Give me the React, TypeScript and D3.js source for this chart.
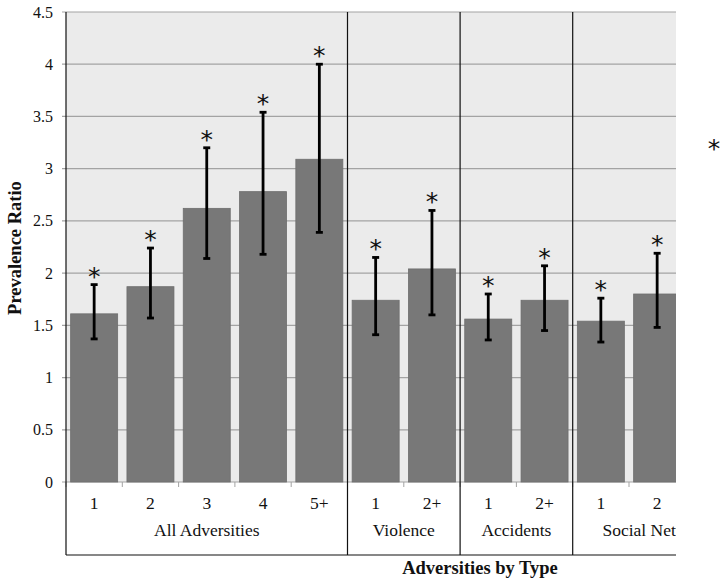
import React from "react";
import * as d3 from "d3";

const categories = ["1", "2", "3", "4", "5+", "1", "2+", "1", "2+", "1", "2", "3+"];
const groups = ["All Adversities", "All Adversities", "All Adversities", "All Adversities", "All Adversities", "Violence", "Violence", "Accidents", "Accidents", "Social Network", "Social Network", "Social Network"];
// last category lies outside the visible (cropped) area: no value readable
const values: (number | null)[] = [1.61, 1.87, 2.62, 2.78, 3.09, 1.74, 2.04, 1.56, 1.74, 1.54, 1.80, null];
const lower: (number | null)[] = [1.37, 1.57, 2.14, 2.18, 2.39, 1.41, 1.60, 1.36, 1.45, 1.34, 1.48, null];
const upper: (number | null)[] = [1.89, 2.24, 3.20, 3.54, 4.00, 2.15, 2.60, 1.80, 2.07, 1.76, 2.19, null];
const yTicks = [0, 0.5, 1, 1.5, 2, 2.5, 3, 3.5, 4, 4.5];
const groupNames = ["All Adversities", "Violence", "Accidents", "Social Network"];

const W = 726, H = 584;
const left = 66, top = 12, bottom = 482, visRight = 676, boxBottom = 555;
const catW = 56.3;
const fullRight = left + catW * categories.length;

export default function App() {
  const idx = categories.map((_, i) => String(i));
  const x = d3.scaleBand<string>().domain(idx).range([left, fullRight]).paddingInner(0.165).paddingOuter(0.0825);
  const xb = d3.scaleBand<string>().domain(idx).range([left, fullRight]);
  const y = d3.scaleLinear().domain([0, 4.5]).range([bottom, top]);
  const serif = "'Liberation Serif', 'Times New Roman', serif";
  const starFont = "'DejaVu Sans', sans-serif";

  const groupSpans = groupNames.map((g) => {
    const is = groups.map((gg, i) => (gg === g ? i : -1)).filter((i) => i >= 0);
    const x0 = xb(String(is[0]))!;
    const x1 = xb(String(is[is.length - 1]))! + xb.bandwidth();
    return { g, x0, x1 };
  });

  return (
    <svg width={W} height={H} style={{ position: "absolute", left: 0, top: 0, background: "#fff" }}>
      <defs>
        <clipPath id="clip">
          <rect x={0} y={0} width={visRight} height={H} />
        </clipPath>
      </defs>
      <rect x={left} y={top} width={visRight - left} height={bottom - top} fill="#ebebeb" />
      {yTicks.map((t) => (
        <g key={t}>
          <line x1={left - 4} x2={visRight} y1={y(t)} y2={y(t)} stroke="#a3a3a3" strokeWidth={1.2} />
          <text x={53} y={y(t)} dy="0.35em" textAnchor="end" fontFamily={serif} fontSize={16} fill="#111">{t}</text>
        </g>
      ))}
      <g clipPath="url(#clip)">
        {values.map((v, i) =>
          v == null ? null : (
            <rect key={i} x={x(String(i))} y={y(v)} width={x.bandwidth()} height={y(0) - y(v)} fill="#787878" stroke="#6e6e6e" strokeWidth={0.8} />
          )
        )}
        {values.map((v, i) => {
          const u = upper[i], l = lower[i];
          if (v == null || u == null || l == null) return null;
          const cx = x(String(i))! + x.bandwidth() / 2;
          return (
            <g key={"e" + i}>
              <line x1={cx} x2={cx} y1={y(u)} y2={y(l)} stroke="#000" strokeWidth={2.8} />
              <line x1={cx - 3.5} x2={cx + 3.5} y1={y(u)} y2={y(u)} stroke="#000" strokeWidth={2.8} />
              <line x1={cx - 3.5} x2={cx + 3.5} y1={y(l)} y2={y(l)} stroke="#000" strokeWidth={2.8} />
              <text x={cx} y={y(u)} textAnchor="middle" fontFamily={starFont} fontSize={25} fill="#111">*</text>
            </g>
          );
        })}
        {d3.range(categories.length + 1).map((i) => {
          const bx = left + catW * i;
          return <line key={"t" + i} x1={bx} x2={bx} y1={bottom} y2={bottom + 5} stroke="#a3a3a3" strokeWidth={1} />;
        })}
        {categories.map((c, i) => (
          <text key={"c" + i} x={xb(String(i))! + xb.bandwidth() / 2} y={503} dy="0.35em" textAnchor="middle" fontFamily={serif} fontSize={17.5} fill="#111">{c}</text>
        ))}
        {groupSpans.map((s) => (
          <text key={s.g} x={(s.x0 + s.x1) / 2} y={530} dy="0.35em" textAnchor="middle" fontFamily={serif} fontSize={17.5} fill="#111">{s.g}</text>
        ))}
        {groupSpans.slice(1).map((s) => (
          <line key={"d" + s.g} x1={s.x0} x2={s.x0} y1={top} y2={boxBottom} stroke="#111" strokeWidth={1.2} />
        ))}
      </g>
      <line x1={left} x2={left} y1={top} y2={boxBottom} stroke="#111" strokeWidth={1.2} />
      <line x1={left} x2={visRight} y1={boxBottom} y2={boxBottom} stroke="#111" strokeWidth={1.2} />
      <text transform={`translate(21,${(top + bottom) / 2 + 1}) rotate(-90)`} textAnchor="middle" fontFamily={serif} fontWeight="bold" fontSize={18.5} fill="#111">Prevalence Ratio</text>
      <text x={480} y={574} textAnchor="middle" fontFamily={serif} fontWeight="bold" fontSize={18.5} fill="#111">Adversities by Type</text>
      <text x={714} y={157} textAnchor="middle" fontFamily={starFont} fontSize={25} fill="#111">*</text>
    </svg>
  );
}
